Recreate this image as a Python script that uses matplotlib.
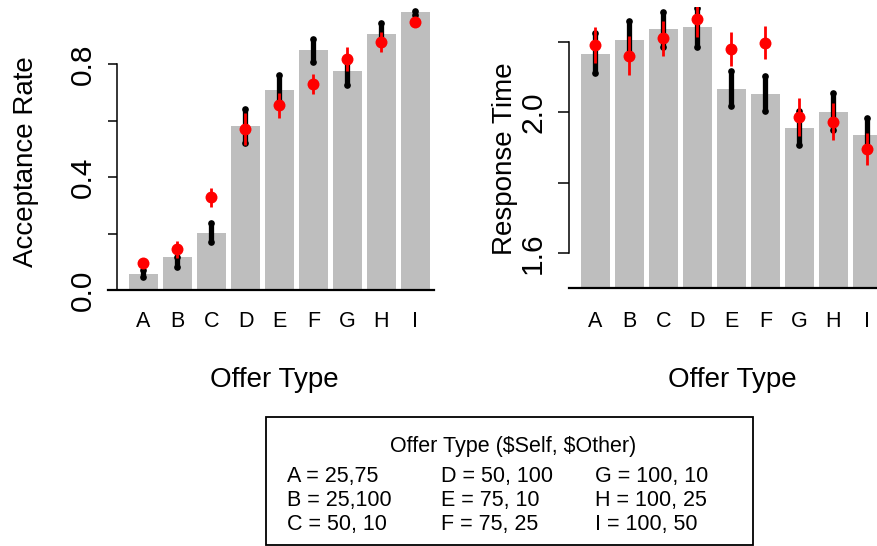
import matplotlib
matplotlib.use("Agg")
import matplotlib.pyplot as plt
from matplotlib.patches import Rectangle
import numpy as np

plt.rcParams['font.family'] = ['Liberation Sans', 'DejaVu Sans']

categories = ['A', 'B', 'C', 'D', 'E', 'F', 'G', 'H', 'I']

accept_bar = [0.057, 0.117, 0.202, 0.581, 0.708, 0.850, 0.775, 0.906, 0.984]
accept_black_lo = [0.047, 0.083, 0.169, 0.519, 0.665, 0.806, 0.726, 0.870, 0.973]
accept_black_hi = [0.071, 0.118, 0.236, 0.641, 0.762, 0.890, 0.806, 0.944, 0.988]
accept_red = [0.097, 0.144, 0.328, 0.569, 0.654, 0.728, 0.818, 0.877, 0.949]
accept_red_lo = [0.085, 0.112, 0.295, 0.512, 0.609, 0.693, 0.775, 0.844, 0.940]
accept_red_hi = [0.108, 0.175, 0.362, 0.625, 0.699, 0.765, 0.859, 0.915, 0.958]

rt_bar = [2.166, 2.206, 2.237, 2.243, 2.066, 2.052, 1.955, 2.000, 1.936]
rt_black_lo = [2.113, 2.165, 2.187, 2.187, 2.018, 2.004, 1.908, 1.950, 1.895]
rt_black_hi = [2.225, 2.261, 2.286, 2.297, 2.118, 2.104, 2.005, 2.056, 1.985]
rt_red = [2.190, 2.161, 2.210, 2.265, 2.180, 2.198, 1.986, 1.973, 1.896]
rt_red_lo = [2.139, 2.106, 2.160, 2.215, 2.133, 2.151, 1.933, 1.921, 1.850]
rt_red_hi = [2.242, 2.217, 2.260, 2.305, 2.227, 2.244, 2.040, 2.026, 1.940]

legend_title = "Offer Type ($Self, $Other)"
legend_cols = [["A = 25,75", "B = 25,100", "C = 50, 10"],
               ["D = 50, 100", "E = 75, 10", "F = 75, 25"],
               ["G = 100, 10", "H = 100, 25", "I = 100, 50"]]

W, H = 878, 546
fig = plt.figure(figsize=(W / 100, H / 100), dpi=100)

GRAY = '#BEBEBE'
RED = '#FF0000'
SP = 34.0  # pixels per bar slot


def px_axes(x0, x1, ytop, ybot):
    return fig.add_axes([x0 / W, 1 - ybot / H, (x1 - x0) / W, (ybot - ytop) / H])


def draw_panel(ax, bars, blo, bhi, red, rlo, rhi):
    x = np.arange(len(categories))
    ax.bar(x, bars, width=0.853, color=GRAY, zorder=1)
    ax.vlines(x, blo, bhi, colors='black', lw=3.8, zorder=2,
              capstyle='round')
    ax.plot(x, blo, 'o', color='black', ms=4.8, mew=0, zorder=2)
    ax.plot(x, bhi, 'o', color='black', ms=4.8, mew=0, zorder=2)
    ax.vlines(x, rlo, rhi, colors=RED, lw=2.0, zorder=3)
    ax.plot(x, red, 'o', color=RED, ms=8.6, mew=0, zorder=4)
    for s in ['top', 'right']:
        ax.spines[s].set_visible(False)
    ax.spines['bottom'].set_linewidth(1.6)
    ax.spines['left'].set_linewidth(1.1)
    ax.set_xticks([])
    ax.set_xticklabels([])


# ---- left panel ----
xc0 = 143.5
axL = px_axes(108, 434, 7.5, 290)
axL.set_xlim((108 - xc0) / SP, (434 - xc0) / SP)
axL.set_ylim(0, 1)
draw_panel(axL, accept_bar, accept_black_lo, accept_black_hi,
           accept_red, accept_red_lo, accept_red_hi)
axL.spines['left'].set_position(('data', (117 - xc0) / SP))
axL.spines['left'].set_bounds(0, 0.8)
axL.set_yticks([0.0, 0.2, 0.4, 0.6, 0.8])
axL.set_yticklabels(['0.0', '', '0.4', '', '0.8'], rotation=90, va='center')
axL.tick_params(axis='y', direction='out', length=6.8, width=1.1,
                labelsize=21.5, pad=8)

# ---- right panel ----
xc1 = 595.5
axR = px_axes(569, 910, 6.8, 288.2)
axR.set_xlim((569 - xc1) / SP, (910 - xc1) / SP)
axR.set_ylim(1.5, 2.3)
draw_panel(axR, rt_bar, rt_black_lo, rt_black_hi,
           rt_red, rt_red_lo, rt_red_hi)
axR.spines['left'].set_bounds(1.6, 2.2)
axR.set_yticks([1.6, 1.8, 2.0, 2.2])
axR.set_yticklabels(['1.6', '', '2.0', ''], rotation=90, va='center')
axR.tick_params(axis='y', direction='out', length=7.8, width=1.1,
                labelsize=21.5, pad=8)

# ---- x category labels ----
for ax, xc, base in [(axL, xc0, 327), (axR, xc1, 327)]:
    for i, c in enumerate(categories):
        fig.text((xc + SP * i) / W, 1 - base / H, c, ha='center',
                 va='baseline', fontsize=15.5)

# ---- axis titles ----
fig.text(274 / W, 1 - 387 / H, 'Offer Type', ha='center', va='baseline',
         fontsize=20)
fig.text(732 / W, 1 - 387 / H, 'Offer Type', ha='center', va='baseline',
         fontsize=20)
fig.text(26 / W, 1 - 162 / H, 'Acceptance Rate', rotation=90, ha='center',
         va='center', fontsize=20)
fig.text(505 / W, 1 - 159 / H, 'Response Time', rotation=90, ha='center',
         va='center', fontsize=20)

# ---- legend box ----
fig.patches.append(Rectangle((266.5 / W, 1 - 545 / H), (753 - 266.5) / W,
                             (545 - 416.5) / H, transform=fig.transFigure,
                             fill=False, edgecolor='black', lw=1.3))
fig.text(513 / W, 1 - 452 / H, legend_title, ha='center', va='baseline',
         fontsize=15.5, parse_math=False)
col_x = [287, 441, 595]
row_base = [482, 506, 530]
for cx, col in zip(col_x, legend_cols):
    for rb, txt in zip(row_base, col):
        fig.text(cx / W, 1 - rb / H, txt, ha='left', va='baseline',
                 fontsize=15.5)

fig.savefig('out.png', dpi=100)
